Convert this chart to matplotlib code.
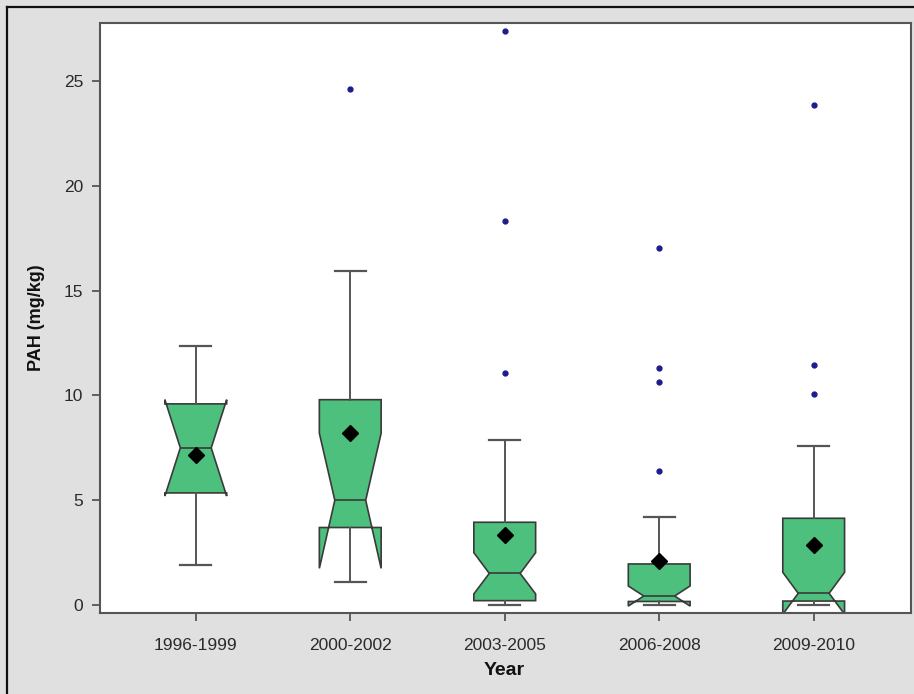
import matplotlib
matplotlib.use("Agg")
import matplotlib.pyplot as plt
from matplotlib.lines import Line2D

plt.rcParams['font.family'] = ['Liberation Sans', 'DejaVu Sans']

# PAH concentration summaries per period (mg/kg)
periods = ["1996-1999", "2000-2002", "2003-2005", "2006-2008", "2009-2010"]
q1 = [5.35, 3.70, 0.21, 0.17, 0.19]
medians = [7.50, 5.00, 1.51, 0.43, 0.56]
q3 = [9.60, 9.80, 3.95, 1.96, 4.14]
means = [7.18, 8.23, 3.34, 2.10, 2.86]
whisker_lo = [1.90, 1.10, 0.00, 0.00, 0.00]
whisker_hi = [12.35, 15.92, 7.89, 4.20, 7.57]
notch_lo = [5.20, 1.75, 0.53, -0.05, -0.44]
notch_hi = [9.80, 8.20, 2.50, 0.91, 1.56]
outliers = [
    [],
    [24.65],
    [11.05, 18.35, 27.40],
    [6.38, 10.64, 11.30, 17.03],
    [10.05, 11.45, 23.85],
]

stats = []
for i, name in enumerate(periods):
    stats.append({
        "label": name,
        "q1": q1[i], "med": medians[i], "q3": q3[i], "mean": means[i],
        "whislo": whisker_lo[i], "whishi": whisker_hi[i],
        "cilo": notch_lo[i], "cihi": notch_hi[i],
        "fliers": outliers[i],
    })

edge = "#3a3a3a"
fig = plt.figure(figsize=(9.14, 6.94), dpi=100, facecolor="#E0E0E0")
ax = fig.add_axes([100 / 914, 81 / 694, 811 / 914, 590.5 / 694])

ax.bxp(
    stats, positions=range(1, 6), widths=0.4, shownotches=True,
    showmeans=True, patch_artist=True,
    boxprops=dict(facecolor="#4EC07E", edgecolor=edge, linewidth=1.2),
    medianprops=dict(color=edge, linewidth=1.2),
    whiskerprops=dict(color="#555555", linewidth=1.4),
    capprops=dict(color="#555555", linewidth=1.6),
    meanprops=dict(marker="D", markerfacecolor="black", markeredgecolor="black",
                   markersize=8.5),
    flierprops=dict(marker="o", markerfacecolor="#1c1c8c", markeredgecolor="#1c1c8c",
                    markersize=3.5),
)

ax.set_xlim(0.38, 5.63)
ax.set_ylim(-0.38, 27.8)
ax.set_yticks([0, 5, 10, 15, 20, 25])
ax.set_xticks(range(1, 6))
ax.set_xticklabels(periods)
ax.set_facecolor("white")
for s in ax.spines.values():
    s.set_color("#555555")
    s.set_linewidth(1.5)
ax.tick_params(direction="out", length=6, width=1.3, color="#555555",
               labelcolor="#2a2a2a", labelsize=12.5, pad=6)
ax.tick_params(axis="x", pad=12)

ax.set_ylabel("PAH (mg/kg)", fontsize=13, fontweight="bold", color="#111111")
ax.yaxis.set_label_coords(-0.068, 0.5)
ax.set_xlabel("Year", fontsize=14, fontweight="bold", color="#111111")
ax.xaxis.set_label_coords(0.499, -0.083)

# dark frame line along the top and left of the panel
fx = 7 / 914
fy = 1 - 7 / 694
fig.add_artist(Line2D([fx, fx], [0, fy], transform=fig.transFigure, color="#111111", lw=1.6))
fig.add_artist(Line2D([fx, 1], [fy, fy], transform=fig.transFigure, color="#111111", lw=1.6))

fig.savefig("out.png", dpi=100, facecolor=fig.get_facecolor())
